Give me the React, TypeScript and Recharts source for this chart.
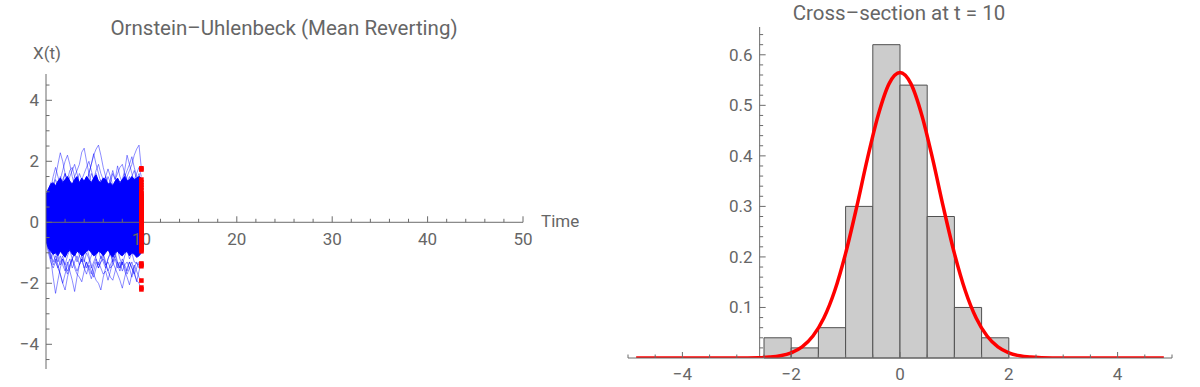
import React from 'react';
import {
  ComposedChart, Line, Area, Scatter, XAxis, YAxis,
  ReferenceLine, ReferenceDot, ReferenceArea,
} from 'recharts';

// ---------- Left panel: Ornstein–Uhlenbeck sample paths ----------
const times = [0,0.25,0.5,0.75,1,1.25,1.5,1.75,2,2.25,2.5,2.75,3,3.25,3.5,3.75,4,4.25,4.5,4.75,5,5.25,5.5,5.75,6,6.25,6.5,6.75,7,7.25,7.5,7.75,8,8.25,8.5,8.75,9,9.25,9.5,9.75,10];

// dense core of the path bundle (lower / upper edge)
const coreHi = [0.9,1.1,1.25,1.3,1.2,1.35,1.45,1.3,1.4,1.5,1.35,1.25,1.4,1.5,1.3,1.45,1.35,1.5,1.4,1.3,1.45,1.55,1.35,1.3,1.45,1.4,1.25,1.3,1.2,1.35,1.45,1.3,1.4,1.5,1.35,1.4,1.5,1.4,1.45,1.5,1.45];
const coreLo = [-0.6,-0.85,-0.95,-1.05,-1.0,-1.1,-0.95,-1.05,-1.15,-1.0,-0.9,-1.05,-1.1,-0.95,-1.0,-1.1,-1.05,-0.95,-0.9,-1.0,-1.1,-1.05,-0.95,-1.0,-1.1,-1.0,-0.9,-1.05,-1.15,-1.0,-0.95,-1.05,-1.1,-1.0,-0.95,-1.1,-1.0,-1.05,-1.15,-1.1,-1.0];

// outlying paths (upper fringe)
const p1 = [0.2,0.6,0.9,1.2,1.5,1.9,2.28,2.0,1.6,1.3,1.0,0.8,1.1,0.9,0.6,0.8,1.0,1.3,1.6,1.9,2.2,2.4,2.53,2.2,1.8,1.5,1.2,0.9,0.7,0.5,0.8,0.6,0.4,0.7,0.9,0.6,0.8,1.0,0.7,0.9,1.1];
const p2 = [0.3,0.5,0.4,0.7,1.0,0.8,0.6,0.9,1.1,1.3,1.0,1.2,1.5,1.7,1.9,2.3,2.43,2.0,1.6,1.3,1.0,0.8,1.1,0.9,0.7,1.0,1.2,0.9,0.7,1.0,1.3,1.1,1.4,1.2,1.5,1.7,1.9,2.2,2.4,2.53,1.75];
const p3 = [0.1,0.4,0.7,0.5,0.8,1.1,1.4,1.7,2.0,2.2,1.9,1.5,1.2,0.9,1.1,0.8,1.0,1.3,1.6,1.9,2.25,1.9,1.6,1.3,1.0,1.2,0.9,0.7,1.0,1.2,0.9,1.1,1.4,1.7,2.2,1.9,1.6,1.3,1.0,1.2,0.9];
const p4 = [-0.1,0.3,0.6,0.9,0.7,1.0,1.3,1.1,1.4,1.2,1.5,1.7,1.9,1.6,1.3,1.0,0.8,1.1,1.3,1.0,0.7,0.9,1.2,1.4,1.2,1.5,1.75,1.5,1.2,1.0,0.8,1.1,1.3,1.5,1.7,1.9,2.15,1.8,1.5,1.3,1.4];
const p5 = [0.4,0.8,1.1,1.5,1.8,1.5,1.2,1.4,1.6,1.3,1.1,0.9,1.2,1.4,1.1,1.4,1.6,1.8,2.0,1.7,1.4,1.6,1.3,1.1,1.3,1.5,1.2,1.4,1.7,1.4,1.6,1.8,1.9,1.6,1.3,1.5,1.2,1.4,1.6,1.8,1.5];
const p6 = [0.6,1.0,1.3,1.1,1.4,1.2,1.5,1.3,1.6,1.4,1.7,1.8,1.5,1.3,1.6,1.4,1.2,1.5,1.3,1.6,1.4,1.7,1.9,1.6,1.4,1.2,1.5,1.3,1.6,1.4,1.85,1.5,1.3,1.6,1.4,1.2,1.5,1.7,1.4,1.6,1.3];
// outlying paths (lower fringe)
const q1 = [-0.2,-0.7,-1.2,-1.8,-2.33,-1.9,-1.5,-1.2,-1.4,-1.1,-0.9,-1.2,-1.0,-0.8,-1.1,-1.3,-1.0,-0.8,-1.1,-1.4,-1.7,-1.9,-2.0,-2.22,-1.8,-1.5,-1.2,-1.0,-1.3,-1.1,-0.9,-1.2,-1.4,-1.1,-0.9,-1.2,-1.0,-1.3,-1.35,-1.4,-1.35];
const q2 = [-0.4,-0.8,-1.1,-1.4,-1.2,-1.5,-1.7,-2.0,-2.22,-1.8,-1.5,-1.2,-1.0,-1.3,-1.1,-0.9,-1.2,-1.5,-1.3,-1.1,-0.9,-1.2,-1.4,-1.1,-1.3,-1.5,-1.2,-1.0,-1.3,-1.5,-1.7,-1.9,-2.16,-1.8,-1.5,-1.3,-1.5,-1.7,-1.9,-2.0,-2.18];
const q3 = [0.0,-0.5,-0.9,-0.7,-1.0,-1.3,-1.1,-1.4,-1.6,-1.3,-1.6,-1.9,-2.27,-1.8,-1.4,-1.1,-1.3,-1.0,-1.2,-1.5,-1.3,-1.1,-0.9,-1.2,-1.0,-1.3,-1.6,-1.4,-1.2,-1.0,-1.3,-1.5,-1.3,-1.6,-1.8,-2.05,-1.7,-1.4,-1.6,-1.8,-1.91];
const q4 = [-0.5,-0.9,-1.2,-1.0,-1.3,-1.5,-1.3,-1.1,-1.4,-1.6,-1.4,-1.2,-1.5,-1.7,-1.8,-1.95,-1.6,-1.3,-1.5,-1.7,-1.4,-1.2,-1.5,-1.3,-1.1,-1.4,-1.6,-1.8,-1.9,-1.6,-1.3,-1.5,-1.2,-1.4,-1.6,-1.3,-1.5,-1.7,-1.5,-1.3,-1.4];
const q5 = [-0.3,-0.6,-1.0,-1.3,-1.1,-1.4,-1.7,-2.0,-1.7,-1.4,-1.2,-1.5,-1.3,-1.1,-1.4,-1.2,-1.5,-1.7,-1.4,-1.6,-1.8,-1.5,-1.3,-1.5,-1.7,-1.6,-1.9,-1.6,-1.3,-1.1,-1.4,-1.6,-1.3,-1.5,-1.7,-1.5,-1.3,-1.6,-1.95,-1.6,-1.3];
const q6 = [-0.6,-1.0,-1.3,-1.5,-1.3,-1.1,-1.4,-1.2,-1.5,-1.7,-1.4,-1.2,-1.4,-1.6,-1.4,-1.2,-1.5,-1.3,-1.6,-1.85,-1.6,-1.3,-1.5,-1.3,-1.2,-1.4,-1.3,-1.5,-1.4,-1.2,-1.5,-1.3,-1.6,-1.4,-1.3,-1.5,-1.8,-1.5,-1.3,-1.5,-1.4];

// cross-section sample values X(10)
const crossSection = [
  -2.20,-2.14,-1.91,-1.44,-1.39,-1.35,
  -0.95,-0.91,-0.87,-0.84,-0.80,-0.77,-0.73,-0.70,-0.67,-0.64,-0.61,-0.58,-0.55,-0.53,-0.51,
  -0.49,-0.47,-0.45,-0.43,-0.41,-0.39,-0.37,-0.35,-0.34,-0.32,-0.30,-0.28,-0.27,-0.25,-0.23,-0.21,-0.20,-0.18,-0.16,-0.15,-0.13,-0.12,-0.10,-0.09,-0.07,-0.06,-0.05,-0.04,-0.03,-0.02,-0.01,
  0.01,0.03,0.04,0.06,0.08,0.09,0.11,0.13,0.14,0.16,0.18,0.20,0.21,0.23,0.25,0.27,0.29,0.30,0.32,0.34,0.36,0.38,0.40,0.42,0.44,0.46,0.48,
  0.52,0.55,0.58,0.61,0.64,0.67,0.70,0.73,0.76,0.80,0.84,0.88,0.92,0.96,
  1.05,1.14,1.22,1.31,1.40,1.73,1.77,
];
const crossTime = 10;

const leftXTicks = [2,4,6,8,10,12,14,16,18,20,22,24,26,28,30,32,34,36,38,40,42,44,46,48,50];
const leftXMajor = [10,20,30,40,50];
const leftYTicks = [-4.5,-4,-3.5,-3,-2.5,-2,-1.5,-1,-0.5,0,0.5,1,1.5,2,2.5,3,3.5,4,4.5];
const leftYMajor = [-4,-2,0,2,4];

// ---------- Right panel: histogram + density ----------
const binStarts = [-2.5,-2,-1.5,-1,-0.5,0,0.5,1,1.5];
const binWidth = 0.5;
const binDensity = [0.04,0.02,0.06,0.30,0.62,0.54,0.28,0.10,0.04];

const curveX = [-4.85,-3.0,-2.8,-2.6,-2.4,-2.2,-2.0,-1.8,-1.6,-1.4,-1.2,-1.0,-0.8,-0.6,-0.4,-0.2,0,0.2,0.4,0.6,0.8,1.0,1.2,1.4,1.6,1.8,2.0,2.2,2.4,2.6,2.8,3.0,4.85];
const curveY = [0,0.0001,0.0002,0.0006,0.0018,0.0044,0.0102,0.0219,0.0434,0.079,0.133,0.207,0.297,0.394,0.481,0.543,0.565,0.543,0.481,0.394,0.297,0.207,0.133,0.079,0.0434,0.0219,0.0102,0.0044,0.0018,0.0006,0.0002,0.0001,0];

const rightXTicks = [-5,-4.5,-4,-3.5,-3,-2.5,-2,-1.5,-1,-0.5,0,0.5,1,1.5,2,2.5,3,3.5,4,4.5,5];
const rightXMajor = [-4,-2,0,2,4];
const rightYTicks = [0.02,0.04,0.06,0.08,0.1,0.12,0.14,0.16,0.18,0.2,0.22,0.24,0.26,0.28,0.3,0.32,0.34,0.36,0.38,0.4,0.42,0.44,0.46,0.48,0.5,0.52,0.54,0.56,0.58,0.6,0.62,0.64];
const rightYMajor = [0.1,0.2,0.3,0.4,0.5,0.6];
const rightYAxisAt = -2.58;

// ---------- styling ----------
const AX = '#6b6b6b';
const TXT = '#666666';
const FONT = 'Roboto, "Open Sans", sans-serif';
const FS = 17;
const TITLE_FS = 20.5;
const BLUE = '#0000ff';
const RED = '#ff0000';

const isIn = (v: number, list: number[]) => list.some((m) => Math.abs(m - v) < 1e-9);
const fmt = (v: number) => (v < 0 ? '\u2212' + String(Math.abs(v)) : String(v));

const pathRows = times.map((t, i) => ({
  t,
  core: [coreLo[i], coreHi[i]],
  p1: p1[i], p2: p2[i], p3: p3[i], p4: p4[i], p5: p5[i], p6: p6[i],
  q1: q1[i], q2: q2[i], q3: q3[i], q4: q4[i], q5: q5[i], q6: q6[i],
}));
const crossRows = crossSection.map((v) => ({ t: crossTime, v }));
const curveRows = curveX.map((x, i) => ({ x, d: curveY[i] }));
const pathKeys = ['p1', 'p2', 'p3', 'p4', 'p5', 'p6', 'q1', 'q2', 'q3', 'q4', 'q5', 'q6'];

const LeftYTick = (props: any) => {
  const { x, y, payload } = props;
  const v = payload.value;
  const major = isIn(v, leftYMajor);
  return (
    <g>
      <line x1={x} x2={x + (major ? 6 : 3.5)} y1={y} y2={y} stroke={AX} strokeWidth={1} />
      {major && (
        <text x={x - 7} y={y} textAnchor="end" dominantBaseline="central" fill={TXT} fontSize={FS} fontFamily={FONT}>
          {fmt(v)}
        </text>
      )}
    </g>
  );
};

const RightXTick = (props: any) => {
  const { x, y, payload } = props;
  const v = payload.value;
  const major = isIn(v, rightXMajor);
  return (
    <g>
      <line x1={x} x2={x} y1={y} y2={y - (major ? 6 : 3.5)} stroke={AX} strokeWidth={1} />
      {major && (
        <text x={x} y={y + 16} textAnchor="middle" dominantBaseline="central" fill={TXT} fontSize={FS} fontFamily={FONT}>
          {fmt(v)}
        </text>
      )}
    </g>
  );
};

const leftXTickShape = (v: number) => (props: any) => {
  const { cx, cy } = props;
  const major = isIn(v, leftXMajor);
  return (
    <g>
      <line x1={cx} x2={cx} y1={cy} y2={cy - (major ? 6 : 3.5)} stroke={AX} strokeWidth={1} />
      {major && (
        <text x={cx} y={cy + 17} textAnchor="middle" dominantBaseline="central" fill={TXT} fontSize={FS} fontFamily={FONT}>
          {fmt(v)}
        </text>
      )}
    </g>
  );
};

const rightYTickShape = (v: number) => (props: any) => {
  const { cx, cy } = props;
  const major = isIn(v, rightYMajor);
  return (
    <g>
      <line x1={cx} x2={cx + (major ? 6 : 3.5)} y1={cy} y2={cy} stroke={AX} strokeWidth={1} />
      {major && (
        <text x={cx - 7} y={cy} textAnchor="end" dominantBaseline="central" fill={TXT} fontSize={FS} fontFamily={FONT}>
          {String(v)}
        </text>
      )}
    </g>
  );
};

const redSquare = (props: any) => {
  const { cx, cy } = props;
  return <rect x={cx - 2.3} y={cy - 2.3} width={4.6} height={4.6} fill={RED} />;
};

const label = (text: string, x: number, y: number, size: number, anchor: 'center' | 'left' = 'center') => (
  <div
    style={{
      position: 'absolute',
      left: x,
      top: y,
      transform: anchor === 'center' ? 'translate(-50%, -50%)' : 'translate(0, -50%)',
      fontFamily: FONT,
      fontSize: size,
      color: TXT,
      whiteSpace: 'nowrap',
      lineHeight: 1,
    }}
  >
    {text}
  </div>
);

export default function App() {
  return (
    <div style={{ position: 'absolute', left: 0, top: 0, width: 1200, height: 387, background: '#fff', overflow: 'hidden' }}>
      <div style={{ position: 'absolute', left: 0, top: 0 }}>
        <ComposedChart width={600} height={387} data={pathRows} margin={{ top: 74, right: 77, bottom: 18, left: 6 }}>
          <XAxis dataKey="t" type="number" domain={[0, 50]} allowDataOverflow hide />
          <YAxis
            type="number"
            domain={[-4.81, 4.862]}
            allowDataOverflow
            width={40}
            ticks={leftYTicks}
            interval={0}
            tick={<LeftYTick />}
            tickLine={false}
            tickSize={0}
            tickMargin={0}
            axisLine={{ stroke: AX, strokeWidth: 1 }}
          />
          <Area dataKey="core" type="linear" stroke={BLUE} strokeWidth={1} fill={BLUE} fillOpacity={1} isAnimationActive={false} />
          {pathKeys.map((k) => (
            <Line key={k} dataKey={k} type="linear" stroke={BLUE} strokeOpacity={0.45} strokeWidth={1} dot={false} isAnimationActive={false} />
          ))}
          <ReferenceLine y={0} stroke={AX} strokeWidth={1} ifOverflow="visible" />
          {leftXTicks.map((v) => (
            <ReferenceDot key={'lx' + v} x={v} y={0} r={0} ifOverflow="visible" shape={leftXTickShape(v)} />
          ))}
          <Scatter data={crossRows} dataKey="v" fill={RED} shape={redSquare} isAnimationActive={false} />
        </ComposedChart>
      </div>
      <div style={{ position: 'absolute', left: 600, top: 0 }}>
        <ComposedChart width={600} height={387} data={curveRows} margin={{ top: 27, right: 28, bottom: 0, left: 28 }}>
          <XAxis
            dataKey="x"
            type="number"
            domain={[-5, 5]}
            allowDataOverflow
            height={29}
            ticks={rightXTicks}
            interval={0}
            tick={<RightXTick />}
            tickLine={false}
            tickSize={0}
            tickMargin={0}
            axisLine={{ stroke: AX, strokeWidth: 1 }}
          />
          <YAxis type="number" domain={[0, 0.655]} allowDataOverflow hide />
          {binStarts.map((b, i) => (
            <ReferenceArea
              key={'bin' + i}
              x1={b}
              x2={b + binWidth}
              y1={0}
              y2={binDensity[i]}
              fill="#cccccc"
              fillOpacity={1}
              stroke="#505050"
              strokeWidth={1}
              strokeOpacity={1}
              ifOverflow="visible"
            />
          ))}
          <ReferenceLine x={rightYAxisAt} stroke={AX} strokeWidth={1} ifOverflow="visible" />
          {rightYTicks.map((v) => (
            <ReferenceDot key={'ry' + v} x={rightYAxisAt} y={v} r={0} ifOverflow="visible" shape={rightYTickShape(v)} />
          ))}
          <Line dataKey="d" type="monotone" stroke={RED} strokeWidth={3.5} dot={false} isAnimationActive={false} />
        </ComposedChart>
      </div>
      {label('Ornstein\u2013Uhlenbeck (Mean Reverting)', 284, 28, TITLE_FS)}
      {label('X(t)', 33, 53, FS, 'left')}
      {label('Time', 541, 221, FS, 'left')}
      {label('Cross\u2013section at t = 10', 899, 13, TITLE_FS)}
    </div>
  );
}
